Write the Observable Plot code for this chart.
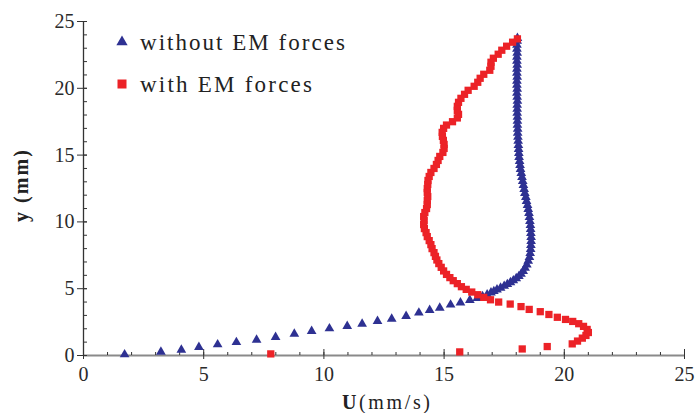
<!DOCTYPE html>
<html><head><meta charset="utf-8">
<script src="https://cdn.jsdelivr.net/npm/d3@7"></script>
<script src="https://cdn.jsdelivr.net/npm/@observablehq/plot@0.6"></script>
<style>body{margin:0;background:#fff}#chart{width:696px;height:413px}</style>
</head><body><div id="chart"></div>
<script>
// without EM forces (blue triangles)
const withoutU = [1.71,3.22,4.07,4.80,5.58,6.36,7.20,7.99,8.77,9.49,10.23,10.97,11.59,12.23,12.82,13.42,13.95,14.40,14.82,15.27,15.68,16.07,16.38,
  16.6,16.79,16.95,17.07,17.2,17.35,17.5,17.63,17.76,17.88,18.0,18.11,18.2,18.29,18.37,18.44,18.5,18.55,18.58,18.6,18.61,18.62,18.62,18.61,18.6,18.59,
  18.57,18.55,18.53,18.5,18.47,18.43,18.4,18.36,18.33,18.3,18.27,18.24,18.21,18.18,18.16,18.14,18.12,18.11,18.1,18.09,18.08,18.07,18.06,18.06,18.05,
  18.05,18.05,18.04,18.04,18.04,18.05,18.04,18.03,18.04,18.03,18.03,18.04,18.03,18.03,18.04,18.03,18.03,18.04,18.03,18.03,18.04,18.05];
const withoutY = [0.07,0.27,0.42,0.62,0.82,0.99,1.17,1.37,1.62,1.82,2.02,2.2,2.36,2.57,2.74,2.94,3.2,3.39,3.56,3.8,3.96,4.14,4.29,
  4.42,4.56,4.7,4.81,4.93,5.06,5.2,5.33,5.47,5.61,5.77,5.93,6.1,6.31,6.55,6.8,7.08,7.35,7.65,7.95,8.25,8.55,8.85,9.15,9.45,9.75,
  10.05,10.35,10.65,10.95,11.25,11.55,11.85,12.15,12.45,12.75,13.05,13.35,13.65,13.95,14.25,14.55,14.85,15.15,15.45,15.75,16.05,16.35,16.65,16.95,17.25,
  17.55,17.85,18.15,18.45,18.75,19.05,19.35,19.65,19.95,20.25,20.55,20.85,21.15,21.45,21.75,22.05,22.35,22.65,22.95,23.25,23.55,23.75];
// with EM forces (red squares)
const withU = [7.79,15.65,18.25,19.29,20.33,20.55,20.75,20.9,21.0,20.95,20.8,20.6,20.35,20.05,19.71,19.36,19.0,18.54,18.2,17.75,17.27,16.93,16.65,16.4,16.15,
  15.92,15.72,15.55,15.38,15.24,15.1,14.98,14.88,14.78,14.7,14.64,
  14.58,14.5,14.45,14.38,14.3,14.25,14.18,14.15,14.17,14.15,14.2,14.27,14.3,14.3,14.32,14.3,14.3,14.32,14.33,14.38,14.45,14.58,14.68,14.75,14.82,
  14.95,15.0,15.0,14.97,14.93,14.92,14.98,15.1,15.35,15.55,15.6,15.55,15.55,15.6,15.7,15.85,16.0,16.25,16.4,16.5,16.65,16.9,16.95,16.95,17.05,17.25,
  17.4,17.6,17.85,18.05];
const withY = [0.12,0.27,0.49,0.67,0.87,1.08,1.3,1.5,1.72,1.95,2.18,2.38,2.55,2.7,2.86,3.07,3.28,3.45,3.66,3.85,4.0,4.17,4.35,4.55,4.75,
  4.95,5.15,5.38,5.6,5.83,6.07,6.33,6.6,6.88,7.15,7.42,
  7.7,8.0,8.3,8.6,8.9,9.2,9.5,9.8,10.1,10.4,10.7,11.0,11.3,11.6,11.9,12.2,12.5,12.8,13.1,13.4,13.7,14.0,14.3,14.6,14.9,
  15.2,15.5,15.8,16.1,16.4,16.7,17.0,17.25,17.5,17.78,18.05,18.35,18.65,18.95,19.25,19.55,19.85,20.15,20.45,20.75,21.05,21.35,21.65,21.95,22.25,22.55,
  22.85,23.15,23.45,23.7];
const majorTicks = [0,5,10,15,20,25];
const minorTicks = d3.range(0, 26, 1);
const seriesNames = ["without EM forces", "with EM forces"];
const blue = "#2e3192", red = "#ec2227";

const withoutData = withoutU.map((u, i) => ({U: u, y: withoutY[i]}));
const withData = withU.map((u, i) => ({U: u, y: withY[i]}));
const font = "'Liberation Serif', 'Times New Roman', serif";

const plot = Plot.plot({
  width: 696, height: 413,
  marginLeft: 83, marginRight: 12, marginTop: 21, marginBottom: 58,
  x: {domain: [0, 25], label: null},
  y: {domain: [0, 25], label: null},
  style: {fontFamily: font, fontSize: "20px", color: "#2a2a2a", background: "#fff"},
  marks: [
    Plot.ruleY([0], {stroke: "#8a8a8a", strokeWidth: 1.8}),
    Plot.ruleX([0], {stroke: "#333", strokeWidth: 1.3}),
    Plot.axisX({ticks: minorTicks, tickSize: -3, tickFormat: () => "", label: null, stroke: "#333"}),
    Plot.axisX({ticks: majorTicks, tickSize: -6, tickFormat: () => "", label: null, stroke: "#333"}),
    Plot.axisX({ticks: majorTicks, tickSize: 4, tickPadding: 7, fontSize: 20, tickFormat: d => d, label: null, stroke: "#333"}),
    Plot.axisY({ticks: minorTicks, tickSize: -4, tickFormat: () => "", label: null, stroke: "#333"}),
    Plot.axisY({ticks: majorTicks, tickSize: -4, tickFormat: () => "", label: null, stroke: "#333"}),
    Plot.axisY({ticks: majorTicks, tickSize: 6, tickPadding: 3, fontSize: 20, tickFormat: d => d, label: null, stroke: "#333"}),
    Plot.dot(withoutData, {x: "U", y: "y", symbol: "triangle", r: 3.6, fill: blue, stroke: "none"}),
    Plot.dot(withData, {x: "U", y: "y", symbol: "square", r: 4.1, fill: red, stroke: "none"})
  ]
});
document.getElementById("chart").append(plot);

const svg = d3.select(plot);
// axis labels
const xl = svg.append("text").attr("x", 342).attr("y", 409).attr("text-anchor", "start").attr("font-family", font).attr("font-size", 20)
  .attr("fill", "#222").attr("textLength", 88).attr("lengthAdjust", "spacing");
xl.append("tspan").attr("font-weight", "bold").text("U");
xl.append("tspan").text("(mm/s)");
svg.append("text").attr("transform", "translate(28,186) rotate(-90)").attr("text-anchor", "middle")
  .attr("font-family", font).attr("font-size", 20).attr("font-weight", "bold").attr("fill", "#222")
  .attr("textLength", 72).attr("lengthAdjust", "spacing").text("y (mm)");
// legend
const lg = svg.append("g").attr("text-anchor", "start");
lg.append("path").attr("d", d3.symbol(d3.symbolTriangle, 55)()).attr("transform", "translate(122,42)").attr("fill", blue);
lg.append("rect").attr("x", 117.5).attr("y", 79.5).attr("width", 9).attr("height", 9).attr("fill", red);
lg.append("text").attr("x", 140).attr("y", 50).attr("text-anchor", "start").attr("font-family", font).attr("font-size", 23).attr("fill", "#222")
  .attr("textLength", 205).attr("lengthAdjust", "spacing").text(seriesNames[0]);
lg.append("text").attr("x", 140).attr("y", 92).attr("text-anchor", "start").attr("font-family", font).attr("font-size", 23).attr("fill", "#222")
  .attr("textLength", 172).attr("lengthAdjust", "spacing").text(seriesNames[1]);
</script>
</body></html>
